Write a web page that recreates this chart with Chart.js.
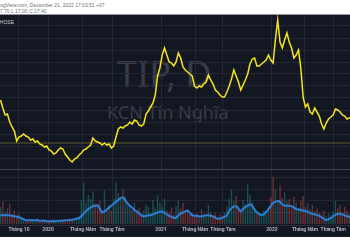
<!DOCTYPE html>
<html>
<head>
<meta charset="utf-8">
<script src="https://cdn.jsdelivr.net/npm/chart.js@4.4.0/dist/chart.umd.min.js"></script>
<style>
  html, body { margin: 0; padding: 0; background: #fff; }
  #wrap { position: relative; width: 350px; height: 250px; overflow: hidden; background: #fff; font-family: 'Liberation Sans', Arial, sans-serif; }
  .hdr { position: absolute; font-size: 5px; line-height: 6px; color: #6f727c; white-space: nowrap; }
  #dark { position: absolute; left: 0; top: 14px; width: 350px; height: 223px; background: #131722; border-top: 1px solid #9598a1; box-sizing: border-box; }
  .wm { position: absolute; color: #393d48; white-space: nowrap; font-family: 'Noto Sans', sans-serif; }
  #legend { position: absolute; right: 336px; top: 19px; font-size: 5px; line-height: 6px; color: #c9ccd4; white-space: nowrap; }
  #sep { position: absolute; left: 0; top: 169px; width: 350px; height: 1px; background: #434651; }
  canvas { position: absolute; left: 0; }
</style>
</head>
<body>
<div id="wrap">
  <div class="hdr" style="left:-11px; top:2px;">TradingView.com, December 21, 2022 17:03:51 +07</div>
  <div class="hdr" style="left:-8px; top:8px;">H:17.70 L:17.00 C:17.40</div>
  <div id="dark"></div>
  <div class="wm" style="left:117px; top:56px; font-size:36px; line-height:36px;">TIP, D</div>
  <div class="wm" style="left:107px; top:103px; font-size:18px; line-height:18px;">KCN Tín Nghĩa</div>
  <div id="legend">TIP, 1D, HOSE</div>
  <canvas id="priceChart" width="350" height="155" style="top:15px"></canvas>
  <div id="sep"></div>
  <canvas id="volChart" width="350" height="65" style="top:170px"></canvas>
</div>
<script>
// --- Data (weekly, from Aug 2019) ---
const PRICE = [22.5, 20.5, 18.75, 19, 17, 15.75, 14.75, 12.25, 13.25, 13.5,
  14, 13.5, 13.25, 12.5, 12.75, 12, 12.25, 11.5, 11.25, 10.75,
  11, 10, 9.75, 9, 9.25, 10, 10.5, 10.25, 9, 8.25,
  7.5, 7, 7.75, 8, 8.75, 9.25, 10, 10.25, 10.75, 11.25,
  13, 12.25, 12, 11.75, 11.25, 11.75, 11.25, 11.5, 10.5, 11,
  13.25, 15.25, 15.75, 15.5, 16, 16.25, 17, 16.5, 17.5, 17.25,
  16.25, 16, 16.5, 19, 19.75, 20.75, 21.75, 23.75, 28.5, 30.5,
  33.75, 35.5, 33.75, 32, 31.75, 31, 32, 34.25, 33, 30.75,
  30, 29.5, 29, 28.5, 26, 25.5, 26, 25.75, 26.5, 27,
  28.75, 27.5, 26.5, 25, 24.5, 23.75, 23.25, 23.25, 24.5, 26,
  27.75, 30, 28.5, 27, 25, 26.25, 27.5, 29, 31.5, 32.75,
  33, 31, 31, 31.5, 32, 32.5, 33.75, 32.5, 31.75, 37.5,
  42.5, 37, 35.5, 37.5, 39.25, 37, 35.5, 33, 33.75, 35,
  30.5, 23.25, 20.75, 21.5, 19.5, 19, 20.5, 19.5, 18.5, 16.5,
  15.25, 16.75, 17.75, 18.25, 18.75, 20.25, 20, 19.5, 18.75, 18.5,
  17.75, 18, 18];

// volume, millions
const VOLUME = [1.8, 2.3, 1.2, 1.6, 2.1, 1.0, 1.4, 0.9, 1.1,
  0.6, 0.4, 0.5, 0.3, 0.5, 0.4, 0.3, 0.6, 0.4, 0.3, 0.5, 0.4, 0.3, 0.4, 0.5, 0.3, 0.4, 0.3, 0.5, 0.4, 0.3, 0.6, 0.5, 0.4, 0.7, 0.8,
  2.5, 4.3, 2.2, 3.0, 2.6, 3.4,
  2.1, 1.8, 2.4, 1.5, 3.5, 1.7, 2.0, 1.4,
  2.6, 4.3, 3.2, 2.8, 3.6, 2.9, 2.2, 1.9,
  1.5, 2.2, 1.3, 1.7, 1.1, 1.4, 2.0,
  1.8, 1.2, 2.5, 1.6, 3.0, 2.2, 1.8, 2.6, 1.4, 1.2, 1.7, 1.0,
  1.9, 2.4, 1.6, 2.2, 1.3, 1.5, 1.0,
  1.2, 0.8, 1.1, 0.9, 1.5, 1.0, 0.8, 2.0, 1.2, 0.9, 1.1, 0.7, 1.0, 0.8, 1.2,
  1.8, 2.6, 3.6, 2.4, 2.9, 1.8, 1.5,
  2.5, 2.1, 4.1, 3.0, 2.3, 1.6, 1.2,
  1.1, 0.9, 1.4, 1.0, 1.8,
  2.8, 4.9, 3.6, 2.5, 4.0, 2.7, 3.3, 2.4,
  2.6, 1.9, 2.8, 2.2, 1.7, 2.4,
  2.9, 1.8, 2.2, 1.5, 2.0, 1.3, 1.6, 1.2,
  1.0, 1.4, 0.8, 1.1, 0.9, 1.3, 2.4,
  1.6, 2.0, 1.2, 1.8, 1.4, 1.1, 1.3];

const VOLUME_MA = [0.9, 0.9, 0.9, 0.9, 0.9, 0.85, 0.8, 0.75, 0.7, 0.6,
  0.5, 0.4, 0.4, 0.4, 0.4, 0.4, 0.4, 0.35, 0.35, 0.35,
  0.3, 0.3, 0.3, 0.3, 0.3, 0.35, 0.35, 0.35, 0.4, 0.4,
  0.4, 0.45, 0.5, 0.55, 0.6, 0.8, 1.1, 1.35, 1.55, 1.7,
  1.85, 1.9, 1.95, 1.6, 1.2, 1.3, 1.5, 1.7, 1.9, 2.1,
  2.3, 2.5, 2.7, 2.75, 2.45, 2.15, 1.9, 1.7, 1.45, 1.3,
  1.1, 0.9, 0.8, 0.85, 0.9, 0.9, 1.0, 1.1, 1.2, 1.25,
  1.3, 1.15, 1.0, 0.85, 0.75, 0.65, 0.65, 0.9, 1.1, 1.2,
  1.3, 1.4, 1.15, 0.9, 0.85, 0.85, 0.8, 0.8, 0.85, 0.9,
  0.9, 0.85, 0.8, 0.65, 0.55, 0.55, 0.65, 0.75, 0.9, 1.35,
  1.65, 1.8, 1.85, 1.6, 1.3, 1.55, 1.75, 1.9, 2.05, 1.85,
  1.5, 1.2, 1.05, 0.95, 1.0, 1.25, 1.55, 1.85, 2.2, 2.3,
  2.4, 2.3, 2.05, 1.9, 1.9, 1.9, 1.85, 1.7, 1.55, 1.5,
  1.45, 1.4, 1.35, 1.25, 1.15, 1.05, 1.0, 0.95, 0.85, 0.7,
  0.55, 0.4, 0.5, 0.6, 0.8, 0.95, 1.05, 1.05, 1.0, 0.9,
  0.8, 0.75, 0.7];

const REF_LEVEL = 11.75;
const PRICE_TICKS = [8, 11, 14, 17, 20, 23, 26, 29, 32, 35, 38, 41];
const VOLUME_TICKS = [1.2, 2.4, 3.6, 4.8];
// week index where each month label falls
const TICK_WEEKS = [8, 20.6, 35.7, 48.3, 69.5, 84.2, 96.3, 117.5, 131.8, 144];
const TICK_LABELS = ['Tháng 10', '2020', 'Tháng Năm', 'Tháng Tám', '2021', 'Tháng Năm', 'Tháng Tám', '2022', 'Tháng Năm', 'Tháng Tám'];

const X_MIN = -0.22, X_MAX = 151.3;
const GRID = '#232733';

const weekTicks = (scale) => { scale.ticks = TICK_WEEKS.map(v => ({ value: v })); };
const pts = (arr) => arr.map((v, i) => ({ x: i, y: v }));

new Chart(document.getElementById('priceChart'), {
    type: 'line',
    data: {
        datasets: [
            { data: pts(PRICE), borderColor: '#f5e51b', borderWidth: 1.5, pointRadius: 0, tension: 0 },
            { data: [{ x: X_MIN, y: REF_LEVEL }, { x: X_MAX, y: REF_LEVEL }], borderColor: '#5e5c28', borderWidth: 1, pointRadius: 0 }
        ]
    },
    options: {
        responsive: false, animation: false,
        layout: { padding: 0 },
        plugins: { legend: { display: false }, tooltip: { enabled: false } },
        scales: {
            x: { type: 'linear', min: X_MIN, max: X_MAX, afterBuildTicks: weekTicks,
                 ticks: { display: false }, grid: { color: GRID, drawTicks: false }, border: { display: false } },
            y: { position: 'right', min: 5, max: 43.75,
                 afterBuildTicks: (s) => { s.ticks = PRICE_TICKS.map(v => ({ value: v })); },
                 ticks: { display: false }, grid: { color: GRID, drawTicks: false }, border: { display: false } }
        }
    }
});

const barColors = VOLUME.map((_, i) => (i === 0 || PRICE[i] >= PRICE[i - 1]) ? 'rgba(38,166,154,0.4)' : 'rgba(239,83,80,0.4)');

new Chart(document.getElementById('volChart'), {
    type: 'bar',
    data: {
        datasets: [
            { type: 'line', data: pts(VOLUME_MA), borderColor: '#2b7fd4', borderWidth: 2, pointRadius: 0, tension: 0.3, order: 0 },
            { data: pts(VOLUME), backgroundColor: barColors, barPercentage: 0.6, categoryPercentage: 1, order: 1 }
        ]
    },
    options: {
        responsive: false, animation: false,
        layout: { padding: 0 },
        plugins: { legend: { display: false }, tooltip: { enabled: false } },
        scales: {
            x: { type: 'linear', offset: false, min: X_MIN, max: X_MAX, afterBuildTicks: weekTicks,
                 ticks: { autoSkip: false, maxRotation: 0, padding: 2, color: '#b2b5be',
                          font: { size: 5, weight: 'bold', family: 'Roboto' },
                          callback: (v, i) => TICK_LABELS[i] },
                 grid: { color: GRID, drawTicks: false, offset: false }, border: { display: true, color: '#2a2e39' } },
            y: { position: 'right', min: -0.1, max: 5.6,
                 afterBuildTicks: (s) => { s.ticks = VOLUME_TICKS.map(v => ({ value: v })); },
                 ticks: { display: false }, grid: { color: GRID, drawTicks: false }, border: { display: false } }
        }
    }
});
</script>
</body>
</html>
